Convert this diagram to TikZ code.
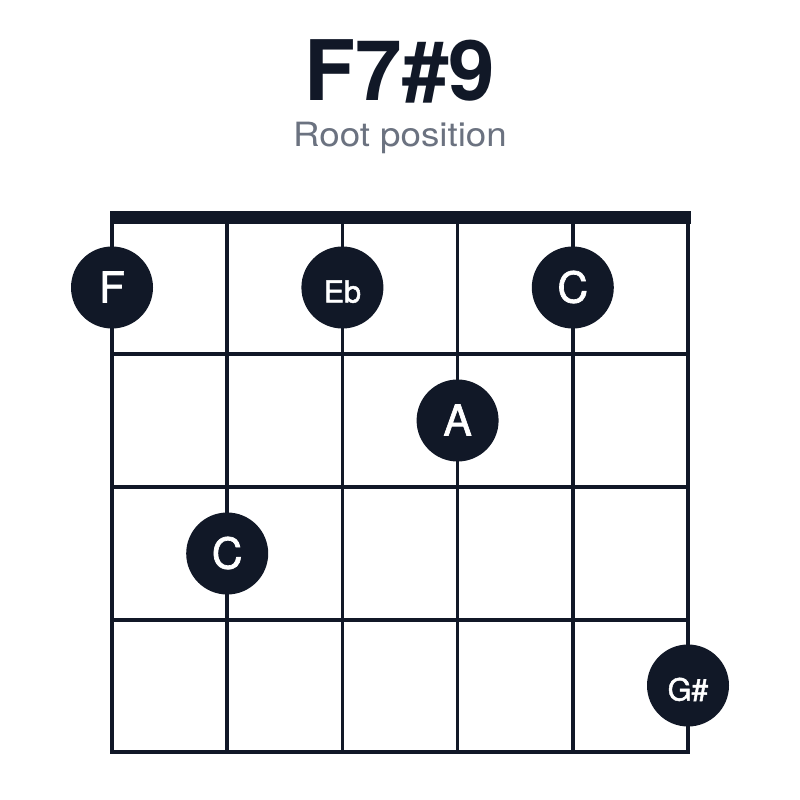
\documentclass[tikz,border=0pt]{standalone}
\usepackage{fontspec}
\setmainfont{TeX Gyre Heros}
\newfontfamily\notefont[FakeBold=1.6]{TeX Gyre Heros}
\newfontfamily\subfont[FakeStretch=1.1]{TeX Gyre Heros}
\definecolor{ink}{HTML}{111827}
\definecolor{subgray}{HTML}{6B7280}
\begin{document}
\begin{tikzpicture}[x=1pt,y=-1pt,
  gridline/.style={draw=ink,line width=3.5pt},
  nutbar/.style={fill=ink},
  note/.style={circle,fill=ink,inner sep=0pt,minimum size=82pt,text=white,
    text height=30pt,text depth=0pt},
  bignote/.style={note,font=\notefont\fontsize{42.5}{42}\selectfont},
  smallnote/.style={note,font=\notefont\fontsize{30.5}{30}\selectfont},
  title/.style={anchor=base,text=ink,font=\fontsize{83.5}{90}\selectfont\bfseries},
  subtitle/.style={anchor=base,text=subgray,font=\subfont\fontsize{33.4}{36}\selectfont}]
\useasboundingbox (0,0) rectangle (800,800);
\fill[white] (0,0) rectangle (800,800);
\node[title] (t) at (400,100) {F7\#9};
\node[subtitle] (st) at (400,146) {Root position};
% strings
\foreach \i in {0,...,5}{
  \draw[gridline,line cap=rect] ({112+115.2*\i},221) -- ({112+115.2*\i},752);
}
% frets
\foreach \y in {354,487,620,752}{
  \draw[gridline,line cap=rect] (112,\y) -- (688,\y);
}
% nut
\fill[nutbar] (109.5,211) rectangle (690.5,224);
% notes
\node[bignote] (n1) at (112,287.5) {F};
\node[smallnote] (n2) at (342.4,287.5) {Eb};
\node[bignote] (n3) at (572.8,287.5) {C};
\node[bignote] (n4) at (457.6,420.5) {A};
\node[bignote] (n5) at (227.2,553.5) {C};
\node[smallnote] (n6) at (688,685.5) {G\#};
\end{tikzpicture}
\end{document}
